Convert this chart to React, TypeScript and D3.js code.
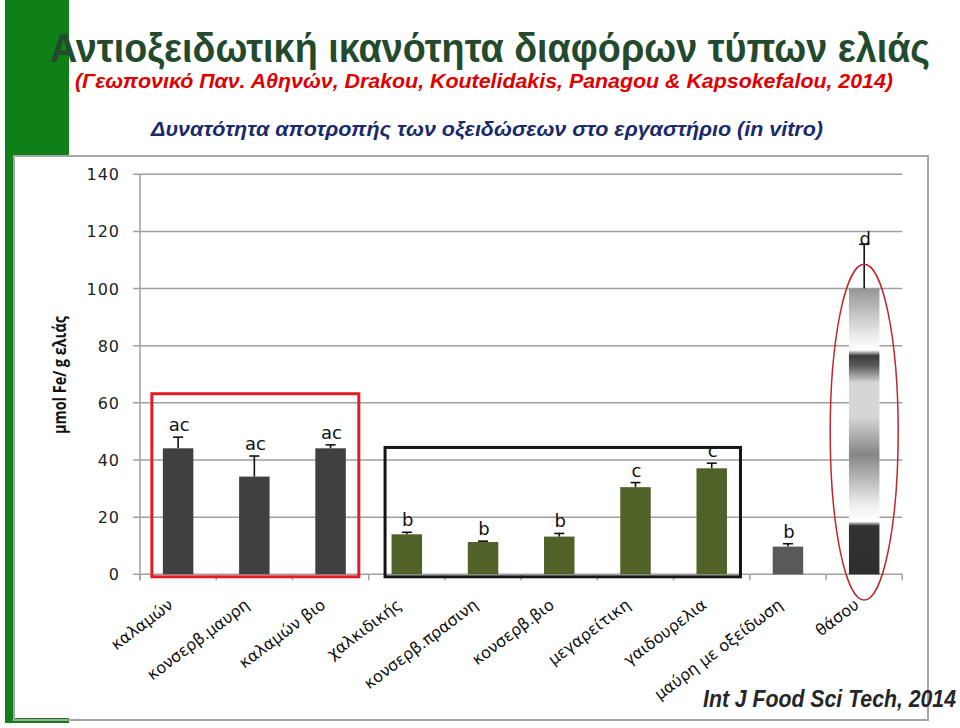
import React, { useRef, useEffect } from "react";
import * as d3 from "d3";

const categories = [
  "καλαμών",
  "κονσερβ.μαυρη",
  "καλαμών βιο",
  "χαλκιδικής",
  "κονσερβ.πρασινη",
  "κονσερβ.βιο",
  "μεγαρείτικη",
  "γαιδουρελια",
  "μαύρη με οξείδωση",
  "θάσου",
];
const values = [44.1, 34.2, 44.1, 14.0, 11.3, 13.2, 30.5, 37.1, 9.7, 100];
const errors = [3.9, 7.2, 1.2, 0.7, 0.3, 1.1, 1.6, 1.8, 1.0, 15.5];
const letters = ["ac", "ac", "ac", "b", "b", "b", "c", "c", "b", "d"];
const yTicks = [0, 20, 40, 60, 80, 100, 120, 140];

const barColor = (i: number) =>
  i < 3 ? "#404040" : i < 8 ? "#4f6228" : i === 8 ? "#595959" : "url(#thasos)";

const App: React.FC = () => {
  const ref = useRef<SVGSVGElement | null>(null);

  useEffect(() => {
    if (!ref.current) return;
    const svg = d3.select(ref.current);
    svg.selectAll("*").remove();

    const width = 960;
    const height = 728;
    const plot = { left: 140, right: 902.3, top: 174.3, bottom: 574.3 };

    svg.append("rect").attr("width", width).attr("height", height).attr("fill", "#fff");

    // gradient for the last bar
    const grad = svg
      .append("defs")
      .append("linearGradient")
      .attr("id", "thasos")
      .attr("x1", 0)
      .attr("y1", 0)
      .attr("x2", 0)
      .attr("y2", 1);
    const stops: [number, string][] = [
      [0, "#969696"],
      [0.17, "#eeeeee"],
      [0.215, "#ffffff"],
      [0.235, "#3a3a3a"],
      [0.27, "#5a5a5a"],
      [0.33, "#d6d6d6"],
      [0.45, "#d6d6d6"],
      [0.58, "#858585"],
      [0.76, "#f0f0f0"],
      [0.815, "#ffffff"],
      [0.83, "#333333"],
      [1, "#2e2e2e"],
    ];
    grad
      .selectAll("stop")
      .data(stops)
      .enter()
      .append("stop")
      .attr("offset", d => d[0])
      .attr("stop-color", d => d[1]);

    // green decoration
    svg.append("rect").attr("x", 5).attr("y", 0).attr("width", 64).attr("height", 156).attr("fill", "#0f7f17");
    svg.append("rect").attr("x", 5).attr("y", 0).attr("width", 8).attr("height", 723).attr("fill", "#0f7f17");
    svg.append("rect").attr("x", 5).attr("y", 718).attr("width", 64).attr("height", 5).attr("fill", "#0f7f17");

    // chart frame
    svg
      .append("rect")
      .attr("x", 14)
      .attr("y", 156)
      .attr("width", 914)
      .attr("height", 564)
      .attr("fill", "none")
      .attr("stroke", "#a6a6a6")
      .attr("stroke-width", 2);

    // titles
    svg
      .append("text")
      .attr("x", 50)
      .attr("y", 62)
      .attr("textLength", 880)
      .attr("lengthAdjust", "spacingAndGlyphs")
      .style("font-family", "Liberation Sans")
      .style("font-weight", "bold")
      .style("font-size", "41px")
      .attr("fill", "#234a2c")
      .text("Αντιοξειδωτική ικανότητα διαφόρων τύπων ελιάς");

    svg
      .append("text")
      .attr("x", 75)
      .attr("y", 88)
      .attr("textLength", 818)
      .attr("lengthAdjust", "spacingAndGlyphs")
      .style("font-family", "Liberation Sans")
      .style("font-style", "italic")
      .style("font-weight", "bold")
      .style("font-size", "21px")
      .attr("fill", "#e00000")
      .text("(Γεωπονικό Παν. Αθηνών, Drakou, Koutelidakis, Panagou & Kapsokefalou, 2014)");

    svg
      .append("text")
      .attr("x", 151)
      .attr("y", 136)
      .attr("textLength", 672)
      .attr("lengthAdjust", "spacingAndGlyphs")
      .style("font-family", "Liberation Sans")
      .style("font-style", "italic")
      .style("font-weight", "bold")
      .style("font-size", "20px")
      .attr("fill", "#1b2a6b")
      .text("Δυνατότητα αποτροπής των οξειδώσεων στο εργαστήριο (in vitro)");

    const x = d3
      .scaleBand()
      .domain(categories)
      .range([plot.left, plot.right])
      .paddingInner(0.6)
      .paddingOuter(0.3);
    const y = d3.scaleLinear().domain([0, 140]).range([plot.bottom, plot.top]);
    const step = x.step();
    const bw = x.bandwidth();

    // gridlines
    svg
      .append("g")
      .selectAll("line")
      .data(yTicks)
      .enter()
      .append("line")
      .attr("x1", plot.left - 7)
      .attr("x2", plot.right)
      .attr("y1", d => y(d))
      .attr("y2", d => y(d))
      .attr("stroke", "#a0a0a0")
      .attr("stroke-width", 1.5);

    // y axis line
    svg
      .append("line")
      .attr("x1", plot.left)
      .attr("x2", plot.left)
      .attr("y1", y(140))
      .attr("y2", y(0) + 6)
      .attr("stroke", "#a0a0a0")
      .attr("stroke-width", 1.5);

    // x ticks at band boundaries
    svg
      .append("g")
      .selectAll("line")
      .data(d3.range(categories.length + 1))
      .enter()
      .append("line")
      .attr("x1", i => plot.left + i * step)
      .attr("x2", i => plot.left + i * step)
      .attr("y1", y(0))
      .attr("y2", y(0) + 6)
      .attr("stroke", "#a0a0a0")
      .attr("stroke-width", 1.5);

    // y tick labels
    svg
      .append("g")
      .selectAll("text")
      .data(yTicks)
      .enter()
      .append("text")
      .attr("x", 120)
      .attr("y", d => y(d) + 6)
      .attr("text-anchor", "end")
      .style("font-family", "DejaVu Sans")
      .style("font-size", "16px")
      .style("letter-spacing", "1px")
      .attr("fill", "#222")
      .text(d => d);

    // y axis title
    svg
      .append("text")
      .attr("transform", "translate(66,375) rotate(-90)")
      .attr("text-anchor", "middle")
      .attr("textLength", 118)
      .attr("lengthAdjust", "spacingAndGlyphs")
      .style("font-family", "Open Sans")
      .style("font-weight", "bold")
      .style("font-size", "17px")
      .attr("fill", "#111")
      .text("μmol Fe/ g ελιάς");

    // bars
    svg
      .append("g")
      .selectAll("rect")
      .data(values)
      .enter()
      .append("rect")
      .attr("x", (_, i) => x(categories[i])!)
      .attr("y", d => y(d))
      .attr("width", bw)
      .attr("height", d => y(0) - y(d))
      .attr("fill", (_, i) => barColor(i));

    // error bars (upper half)
    const err = svg.append("g").attr("stroke", "#111").attr("stroke-width", 1.6);
    values.forEach((v, i) => {
      const cx = x(categories[i])! + bw / 2;
      const top = y(v + errors[i]);
      err.append("line").attr("x1", cx).attr("x2", cx).attr("y1", y(v)).attr("y2", top);
      err.append("line").attr("x1", cx - 5).attr("x2", cx + 5).attr("y1", top).attr("y2", top);
    });

    // significance letters
    svg
      .append("g")
      .selectAll("text")
      .data(letters)
      .enter()
      .append("text")
      .attr("x", (_, i) => x(categories[i])! + bw / 2 + 1)
      .attr("y", (d, i) => y(values[i] + errors[i]) - (d === "d" ? -1 : 6))
      .attr("text-anchor", "middle")
      .style("font-family", "DejaVu Sans")
      .style("font-size", "18px")
      .attr("fill", "#111")
      .text(d => d);

    // x labels
    svg
      .append("g")
      .selectAll("text")
      .data(categories)
      .enter()
      .append("text")
      .attr("transform", d => `translate(${x(d)! + bw / 2 - 4},607) rotate(-37)`)
      .attr("text-anchor", "end")
      .style("font-family", "DejaVu Sans")
      .style("font-size", "16px")
      .attr("fill", "#111")
      .text(d => d);

    // highlight boxes
    const x0 = x(categories[0])!;
    const x2 = x(categories[2])! + bw;
    svg
      .append("rect")
      .attr("x", x0 - 11)
      .attr("y", y(63.2))
      .attr("width", x2 + 13 - (x0 - 11))
      .attr("height", y(0) + 2.5 - y(63.2))
      .attr("fill", "none")
      .attr("stroke", "#e31b23")
      .attr("stroke-width", 3);

    const x3 = x(categories[3])!;
    const x7 = x(categories[7])! + bw;
    svg
      .append("rect")
      .attr("x", x3 - 6.5)
      .attr("y", y(44.4))
      .attr("width", x7 + 13.5 - (x3 - 6.5))
      .attr("height", y(0) + 2.5 - y(44.4))
      .attr("fill", "none")
      .attr("stroke", "#141414")
      .attr("stroke-width", 3);

    const cx9 = x(categories[9])! + bw / 2;
    svg
      .append("ellipse")
      .attr("cx", cx9)
      .attr("cy", (y(108.5) + y(-9)) / 2)
      .attr("rx", 34)
      .attr("ry", (y(-9) - y(108.5)) / 2)
      .attr("fill", "none")
      .attr("stroke", "#c0282d")
      .attr("stroke-width", 1.5);

    // citation
    svg
      .append("text")
      .attr("x", 703)
      .attr("y", 707)
      .attr("textLength", 253)
      .attr("lengthAdjust", "spacingAndGlyphs")
      .style("font-family", "Liberation Sans")
      .style("font-style", "italic")
      .style("font-weight", "bold")
      .style("font-size", "23px")
      .attr("fill", "#262626")
      .text("Int J Food Sci Tech, 2014");
  }, []);

  return (
    <svg
      ref={ref}
      width={960}
      height={728}
      style={{ position: "absolute", left: 0, top: 0, display: "block" }}
    />
  );
};

export default App;
